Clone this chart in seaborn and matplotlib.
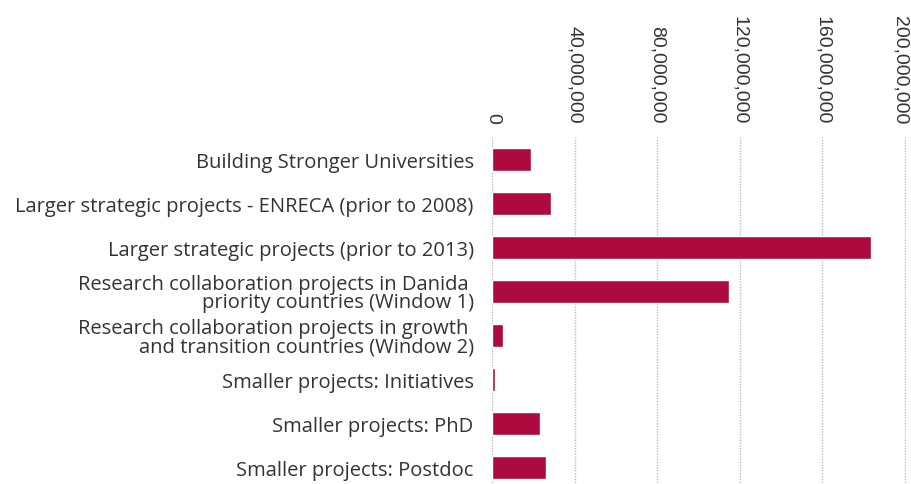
import matplotlib
matplotlib.use("Agg")
import matplotlib.pyplot as plt
import matplotlib.ticker as mticker
from matplotlib.transforms import ScaledTranslation
import seaborn as sns
import pandas as pd

categories = [
    "Building Stronger Universities",
    "Larger strategic projects - ENRECA (prior to 2008)",
    "Larger strategic projects (prior to 2013)",
    "Research collaboration projects in Danida \npriority countries (Window 1)",
    "Research collaboration projects in growth \nand transition countries (Window 2)",
    "Smaller projects: Initiatives",
    "Smaller projects: PhD",
    "Smaller projects: Postdoc",
]
values = [18500000, 28200000, 183700000, 114600000, 5000000, 1000000, 23300000, 26200000]
xticks = [0, 40000000, 80000000, 120000000, 160000000, 200000000]

df = pd.DataFrame({"category": categories, "value": values})

sns.set_theme(style="white")
plt.rcParams["font.family"] = ["Open Sans", "DejaVu Sans"]

fig = plt.figure(figsize=(9.12, 4.85), dpi=100)
ax = fig.add_axes([0.5400, -0.0113, 0.4530, 0.7258])

sns.barplot(data=df, y="category", x="value", orient="h", color="#ad0a40",
            saturation=1, width=0.52, ax=ax)

ax.set_xlim(0, 200500000)
ax.set_ylim(7.5, -0.5)
ax.set_xticks(xticks)
ax.xaxis.set_major_formatter(mticker.FuncFormatter(lambda v, p: f"{int(v):,}"))
ax.xaxis.tick_top()
ax.tick_params(axis="x", length=0, pad=10.5, labelsize=14, labelcolor="#333333")
ax.tick_params(axis="y", length=0, pad=13.5, labelsize=14.5, labelcolor="#333333")
xlabels = ax.get_xticklabels()
for lbl in xlabels:
    lbl.set_rotation(-90)
    lbl.set_ha("center")
    lbl.set_va("bottom")
    lbl.set_family(["Liberation Sans", "DejaVu Sans"])
xlabels[-1].set_transform(xlabels[-1].get_transform()
                          + ScaledTranslation(-3 / 72, 0, fig.dpi_scale_trans))
for lbl in ax.get_yticklabels():
    lbl.set_linespacing(0.9)
ax.set_xlabel("")
ax.set_ylabel("")
for s in ax.spines.values():
    s.set_visible(False)
ax.grid(axis="x", color="#bbbbbb", linestyle=(0, (1, 1)), linewidth=1)
ax.grid(axis="y", visible=False)
ax.set_axisbelow(True)

fig.savefig("out.png", dpi=100)
